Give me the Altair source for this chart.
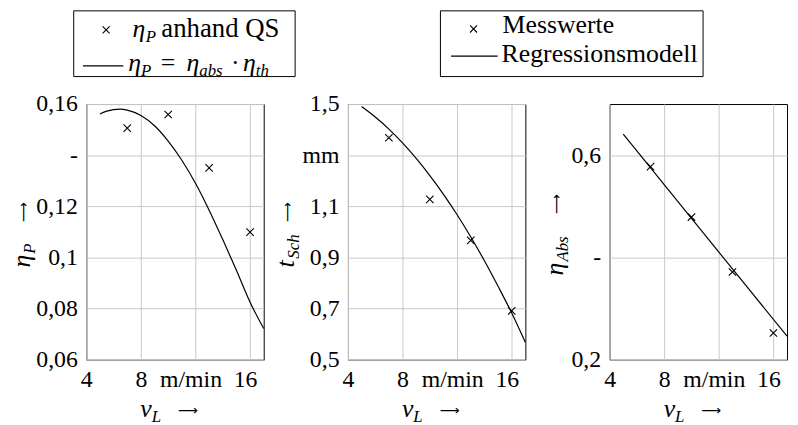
import altair as alt
import pandas as pd

FONT = "Liberation Serif, serif"
ARROW_FONT = "DejaVu Sans"
ARROW = "⟶"

# ---- data ----
v_mess = [7, 10, 13, 16]
eta_p_qs = [0.1506, 0.1559, 0.1350, 0.1099]
t_sch_mess = [1.368, 1.127, 0.967, 0.691]
eta_abs_mess = [0.5775, 0.479, 0.3715, 0.2523]

v_curve1 = [5, 5.5, 6, 6.5, 7, 8, 9, 10, 11, 12, 13, 14, 15, 16, 17]
eta_p_model = [0.1561, 0.1572, 0.1578, 0.1580, 0.1576, 0.1555, 0.1515, 0.1455,
               0.1380, 0.1290, 0.1185, 0.1070, 0.0950, 0.0825, 0.0722]
v_curve2 = [5, 6, 7, 8, 9, 10, 11, 12, 13, 14, 15, 16, 17]
t_sch_model = [1.490, 1.449, 1.402, 1.348, 1.287, 1.220, 1.147, 1.067, 0.980,
               0.887, 0.787, 0.683, 0.568]
v_curve3 = [5, 17]
eta_abs_model = [0.641, 0.246]

x_ticks = [4, 8, 12, 16]
x_tick_labels = ["4", "8", "m/min", "16"]
y1_ticks = [0.06, 0.08, 0.10, 0.12, 0.14, 0.16]
y1_labels = ["0,06", "0,08", "0,1", "0,12", "-", "0,16"]
y2_ticks = [0.5, 0.7, 0.9, 1.1, 1.3, 1.5]
y2_labels = ["0,5", "0,7", "0,9", "1,1", "mm", "1,5"]
y3_ticks = [0.2, 0.4, 0.6]
y3_labels = ["0,2", "-", "0,6"]

W, H = 179, 258
CROSS = "M-1,-1L1,1M-1,1L1,-1"


def label_expr(vals, labels):
    expr = "''"
    for v, l in reversed(list(zip(vals, labels))):
        expr = f"abs(datum.value - {v}) < 1e-6 ? '{l}' : ({expr})"
    return expr


common = dict(grid=True, gridColor="#c8c8c8", gridWidth=1, domain=False, ticks=False,
              labelFont=FONT, labelFontSize=24, labelColor="black",
              labelFontWeight="normal", labelFontStyle="normal",
              labelFlush=False, labelOverlap=False, title=None)


def txt(s, x, y, size=26, italic=False, angle=0, dx=0, dy=0, align="left", font=FONT):
    kw = dict(text=s, font=font, fontSize=size,
              fontStyle="italic" if italic else "normal", align=align,
              baseline="alphabetic", color="black", dx=dx, dy=dy)
    if angle:
        kw["angle"] = angle
    return alt.Chart(pd.DataFrame({"k": [0]})).mark_text(**kw).encode(
        x=alt.value(x), y=alt.value(y))


def cross_at(x, y):
    return alt.Chart(pd.DataFrame({"k": [0]})).mark_point(
        shape=CROSS, size=50, filled=False, stroke="black", strokeWidth=1.1, opacity=1
    ).encode(x=alt.value(x), y=alt.value(y))


def rule_at(x1, x2, y):
    return alt.Chart(pd.DataFrame({"k": [0]})).mark_rule(
        color="black", strokeWidth=1.2).encode(x=alt.value(x1), x2=alt.value(x2), y=alt.value(y))


def box(x1, x2, y1, y2):
    return alt.Chart(pd.DataFrame({"k": [0]})).mark_rect(
        fill="white", stroke="black", strokeWidth=1).encode(
        x=alt.value(x1), x2=alt.value(x2), y=alt.value(y1), y2=alt.value(y2))


def xtitle():
    cx = W / 2
    y = H + 57.7
    return [txt("v", cx - 35, y, italic=True),
            txt("L", cx - 23.5, y + 5, size=17, italic=True),
            txt(ARROW, cx + 3, y - 2, size=14, font=ARROW_FONT)]


def ytitle(x, y, main, sub, sub_dx, arrow_dx):
    return [txt(main, x, y, italic=True, angle=270),
            txt(sub, x, y, size=17, italic=True, angle=270, dx=sub_dx, dy=5),
            txt(ARROW, x, y, size=14, angle=270, dx=arrow_dx, dy=-2, font=ARROW_FONT)]


def panel(xp, yp, xc, yc, ydom, yt, yl, extras):
    xscale = alt.Scale(domain=[4, 17], nice=False, zero=False)
    yscale = alt.Scale(domain=ydom, nice=False, zero=False)
    xaxis = alt.Axis(values=x_ticks, labelExpr=label_expr(x_ticks, x_tick_labels),
                     labelPadding=8,
                     labelOffset={"condition": {"test": "datum.value > 10", "value": -5},
                                  "value": 0},
                     **common)
    yaxis = alt.Axis(values=yt, labelExpr=label_expr(yt, yl), labelPadding=9, **common)
    curve = alt.Chart(pd.DataFrame({"x": xc, "y": yc})).mark_line(
        color="black", strokeWidth=1.2, interpolate="monotone").encode(
        x=alt.X("x:Q", scale=xscale, axis=xaxis), y=alt.Y("y:Q", scale=yscale, axis=yaxis))
    pts = alt.Chart(pd.DataFrame({"x": xp, "y": yp})).mark_point(
        shape=CROSS, size=56, filled=False, stroke="black", strokeWidth=1.1, opacity=1).encode(
        x=alt.X("x:Q", scale=xscale, axis=xaxis), y=alt.Y("y:Q", scale=yscale, axis=yaxis))
    return alt.layer(curve, pts, *extras, *xtitle()).properties(width=W, height=H)


# legend 1 (drawn above panel 1)
leg1 = [
    box(-12.7, 210.7, -94, -27.7),
    cross_at(20, -74.7),
    txt("η", 46.7, -68, italic=True),
    txt("P", 60, -63, size=17, italic=True),
    txt("anhand QS", 75.7, -68, size=27),
    rule_at(-3.3, 37.3, -38.5),
    txt("η", 42.3, -33, italic=True),
    txt("P", 55.3, -28, size=17, italic=True),
    txt("=", 75, -33),
    txt("η", 101, -33, italic=True),
    txt("abs", 114, -28, size=17, italic=True),
    txt("·", 146, -33),
    txt("η", 158, -33, italic=True),
    txt("th", 171, -28, size=17, italic=True),
]

# legend 2 (drawn above panel 2)
L2 = 3.3
leg2 = [
    box(90 + L2, 355 + L2, -94, -27.7),
    cross_at(123.4 + L2, -75.7),
    txt("Messwerte", 152.7 + L2, -71.7),
    rule_at(100.7 + L2, 147.7 + L2, -48.4),
    txt("Regressionsmodell", 151.7 + L2, -42.4),
]

yt1 = ytitle(-57, 165, "η", "P", 14, 46)
yt2 = ytitle(-54, 165, "t", "Sch", 9, 46)
yt3 = ytitle(-47, 173, "η", "Abs", 14, 62)

p1 = panel(v_mess, eta_p_qs, v_curve1, eta_p_model, [0.06, 0.16], y1_ticks, y1_labels, leg1 + yt1)
p2 = panel(v_mess, t_sch_mess, v_curve2, t_sch_model, [0.5, 1.5], y2_ticks, y2_labels, leg2 + yt2)
p3 = panel(v_mess, eta_abs_mess, v_curve3, eta_abs_model, [0.2, 0.7], y3_ticks, y3_labels, yt3)

chart = (
    alt.hconcat(p1, p2, p3, spacing=85, bounds="flush")
    .configure(font=FONT)
    .configure_view(stroke="black", strokeWidth=1)
    .configure_axis(labelFont=FONT)
    .properties(padding=0)
)

chart.save("out.html", embed_options={"renderer": "svg", "actions": False})
